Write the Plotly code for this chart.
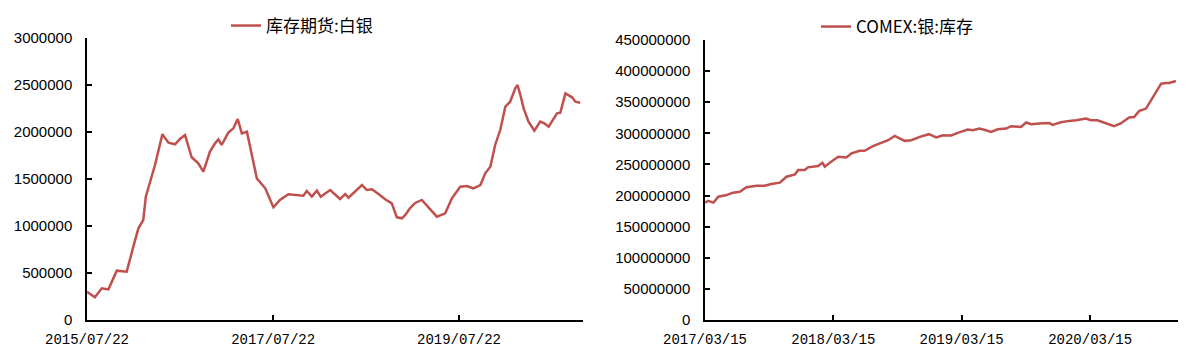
import plotly.graph_objects as go

# ---- Left chart: 库存期货:白银 ----
left_dates = [
    "2015-07-22", "2015-08-22", "2015-09-18", "2015-10-14", "2015-11-16", "2015-12-25",
    "2016-01-20", "2016-02-09", "2016-02-28", "2016-03-09", "2016-03-26", "2016-04-14",
    "2016-05-13", "2016-06-06", "2016-07-02", "2016-07-21", "2016-08-10", "2016-09-05",
    "2016-10-01", "2016-10-21", "2016-11-16", "2016-12-06", "2016-12-19", "2017-01-01",
    "2017-01-27", "2017-02-16", "2017-03-05", "2017-03-21", "2017-04-10", "2017-04-29",
    "2017-05-19", "2017-06-21", "2017-07-23", "2017-08-18", "2017-09-20", "2017-11-18",
    "2017-12-01", "2017-12-21", "2018-01-10", "2018-01-25", "2018-02-11", "2018-03-03",
    "2018-04-11", "2018-05-01", "2018-05-14", "2018-06-09", "2018-07-06", "2018-07-25",
    "2018-08-14", "2018-09-09", "2018-10-05", "2018-10-31", "2018-11-20", "2018-12-10",
    "2018-12-23", "2019-01-11", "2019-01-31", "2019-02-26", "2019-03-18", "2019-04-26",
    "2019-05-29", "2019-06-24", "2019-07-27", "2019-08-22", "2019-09-17", "2019-10-14",
    "2019-11-02", "2019-11-22", "2019-12-11", "2019-12-31", "2020-01-20", "2020-02-08",
    "2020-02-28", "2020-03-08", "2020-03-19", "2020-04-01", "2020-04-20", "2020-05-13",
    "2020-06-05", "2020-06-21", "2020-07-08", "2020-08-10", "2020-08-23", "2020-09-12",
    "2020-10-08", "2020-10-21", "2020-11-09",
]
left_values = [
    301000, 241000, 337000, 326000, 525000, 514000,
    780000, 975000, 1064000, 1312000, 1471000, 1649000,
    1975000, 1887000, 1869000, 1926000, 1968000, 1731000,
    1667000, 1578000, 1791000, 1880000, 1922000, 1862000,
    1993000, 2039000, 2138000, 1986000, 2003000, 1773000,
    1507000, 1401000, 1199000, 1277000, 1337000, 1322000,
    1372000, 1312000, 1376000, 1312000, 1348000, 1383000,
    1287000, 1340000, 1301000, 1362000, 1436000, 1383000,
    1390000, 1340000, 1284000, 1241000, 1092000, 1082000,
    1117000, 1190000, 1245000, 1277000, 1218000, 1099000,
    1135000, 1294000, 1418000, 1426000, 1401000, 1436000,
    1560000, 1631000, 1862000, 2021000, 2269000, 2322000,
    2465000, 2500000, 2394000, 2252000, 2110000, 2014000,
    2110000, 2092000, 2056000, 2199000, 2206000, 2411000,
    2369000, 2322000, 2312000,
]
left_name = "库存期货:白银"
left_tickvals = ["2015-07-22", "2017-07-22", "2019-07-22"]
left_ticktext = ["2015/07/22", "2017/07/22", "2019/07/22"]

# ---- Right chart: COMEX:银:库存 ----
right_dates = [
    "2017-03-15", "2017-03-24", "2017-04-08", "2017-04-22", "2017-05-16", "2017-06-03",
    "2017-06-22", "2017-07-11", "2017-08-09", "2017-09-01", "2017-09-20", "2017-10-14",
    "2017-11-02", "2017-11-26", "2017-12-05", "2017-12-24", "2018-01-02", "2018-01-31",
    "2018-02-12", "2018-02-19", "2018-03-05", "2018-03-29", "2018-04-21", "2018-05-06",
    "2018-05-29", "2018-06-12", "2018-07-06", "2018-08-03", "2018-08-18", "2018-09-06",
    "2018-10-04", "2018-10-23", "2018-11-16", "2018-12-12", "2019-01-02", "2019-01-21",
    "2019-02-14", "2019-03-04", "2019-04-02", "2019-04-16", "2019-05-05", "2019-05-24",
    "2019-06-07", "2019-06-26", "2019-07-20", "2019-08-03", "2019-08-31", "2019-09-15",
    "2019-09-29", "2019-10-22", "2019-11-20", "2019-11-29", "2019-12-23", "2020-01-16",
    "2020-02-04", "2020-03-03", "2020-03-17", "2020-04-05", "2020-04-29", "2020-05-22",
    "2020-06-10", "2020-07-04", "2020-07-18", "2020-08-02", "2020-08-21", "2020-08-30",
    "2020-09-18", "2020-10-03", "2020-10-17", "2020-10-26", "2020-11-14",
]
right_values = [
    188.6, 191.4, 188.6, 198.2, 201.0, 204.6,
    206.2, 213.3, 215.9, 215.9, 218.6, 220.7,
    230.3, 234.1, 241.0, 241.0, 245.3, 247.4,
    252.7, 246.3, 252.7, 262.3, 261.3, 267.7,
    271.9, 271.9, 279.4, 286.3, 289.0, 295.9,
    287.9, 289.0, 294.3, 298.6, 293.3, 297.0,
    296.5, 300.7, 306.2, 305.0, 307.7, 305.0,
    302.3, 306.6, 307.7, 311.4, 310.3, 317.4,
    314.6, 315.8, 316.7, 313.5, 317.8, 320.0,
    321.0, 323.8, 321.0, 321.0, 315.8, 311.4,
    315.8, 325.4, 326.3, 336.0, 339.8, 347.8,
    366.4, 379.8, 380.8, 380.8, 384.0,
]
right_values = [v * 1_000_000 for v in right_values]
right_name = "COMEX:银:库存"
right_tickvals = ["2017-03-15", "2018-03-15", "2019-03-15", "2020-03-15"]
right_ticktext = ["2017/03/15", "2018/03/15", "2019/03/15", "2020/03/15"]

LINE_COLOR = "#C0504D"
W, H = 1198, 359

fig = go.Figure()
fig.add_trace(go.Scatter(x=left_dates, y=left_values, mode="lines", name=left_name,
                         line=dict(color=LINE_COLOR, width=2.5),
                         xaxis="x", yaxis="y", legend="legend"))
fig.add_trace(go.Scatter(x=right_dates, y=right_values, mode="lines", name=right_name,
                         line=dict(color=LINE_COLOR, width=2.5),
                         xaxis="x2", yaxis="y2", legend="legend2"))

ytop = 1 - 38 / H
ybot = 1 - 320 / H

xfont = dict(family="Liberation Mono, monospace", size=14, color="black")
yfont = dict(family="Liberation Sans, Arial", size=15, color="black")

common_x = dict(type="date", showline=True, linecolor="black", linewidth=1.5,
                ticks="inside", ticklen=5, tickcolor="black", tickwidth=1.5,
                showgrid=False, zeroline=False, tickfont=xfont, ticklabelstandoff=5,
                automargin=False)
common_y = dict(showline=True, linecolor="black", linewidth=1.5,
                ticks="inside", ticklen=5, tickcolor="black", tickwidth=1.5,
                showgrid=False, zeroline=False, tickfont=yfont, tickformat="d",
                ticklabelstandoff=10, automargin=False)

fig.update_layout(
    width=W, height=H,
    margin=dict(l=0, r=0, t=0, b=0),
    paper_bgcolor="white", plot_bgcolor="white",
    xaxis=dict(domain=[87 / W, 583 / W], range=["2015-07-22", "2020-11-20"],
               tickvals=left_tickvals, ticktext=left_ticktext, anchor="y", **common_x),
    yaxis=dict(domain=[ybot, ytop], range=[0, 3000000], dtick=500000, tick0=0,
               anchor="x", **common_y),
    xaxis2=dict(domain=[705 / W, 1178 / W], range=["2017-03-15", "2020-11-20"],
                tickvals=right_tickvals, ticktext=right_ticktext, anchor="y2", **common_x),
    yaxis2=dict(domain=[ybot, 1 - 40 / H], range=[0, 450000000], dtick=50000000, tick0=0,
                anchor="x2", **common_y),
    legend=dict(x=302 / W, y=1 - 26 / H, xanchor="center", yanchor="middle",
                orientation="h", bgcolor="rgba(0,0,0,0)",
                font=dict(family="Noto Sans CJK SC", size=17, color="black")),
    legend2=dict(x=897 / W, y=1 - 27 / H, xanchor="center", yanchor="middle",
                 orientation="h", bgcolor="rgba(0,0,0,0)",
                 font=dict(family="Noto Sans CJK SC", size=17, color="black")),
    showlegend=True,
)

fig.write_html("out.html", config={"displayModeBar": False},
               post_script="document.body.style.margin='0';document.body.style.padding='0';")
